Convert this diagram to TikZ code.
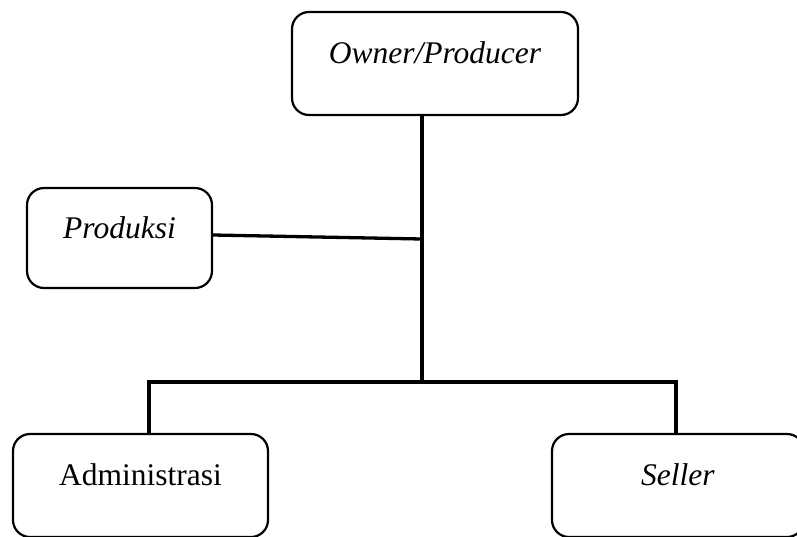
\documentclass[tikz,border=0pt]{standalone}
\usepackage{fontspec}
\setmainfont{Liberation Serif}
\begin{document}
\begin{tikzpicture}[x=1pt,y=-1pt,
  orgbox/.style={draw=black, line width=2.2pt, rounded corners=17pt, fill=white,
    inner sep=0pt, font=\fontsize{31.5}{36}\selectfont,
    text height=0.6em, text depth=0.6em},
  conn/.style={draw=black, line width=3.3pt}]
  \useasboundingbox (0,0) rectangle (797,536);
  \clip (0,0) rectangle (797,536);

  % units of the structure
  \node[orgbox, minimum width=286pt, minimum height=103pt] (owner)  at (435,63.5)  {\textit{Owner/Producer}};
  \node[orgbox, minimum width=185pt, minimum height=100pt] (prod)   at (119.5,238) {\textit{Produksi}};
  \node[orgbox, minimum width=255pt, minimum height=103pt] (admin)  at (140.5,485.5) {Administrasi};
  \node[orgbox, minimum width=252pt, minimum height=103pt] (seller) at (678,485.5) {\textit{Seller}};

  % joints of the connector tree
  \coordinate (trunkTop) at (422,115);
  \coordinate (prodJoin) at (422,239);
  \coordinate (busMid)   at (422,382);
  \coordinate (busL)     at (149,382);
  \coordinate (busR)     at (676,382);

  % connectors
  \draw[conn] (trunkTop) -- (busMid);
  \draw[conn] ([yshift=3pt]prod.east) -- (prodJoin);
  \draw[conn] (admin.north -| busL) -- (busL) -- (busR) -- (seller.north -| busR);
\end{tikzpicture}
\end{document}
